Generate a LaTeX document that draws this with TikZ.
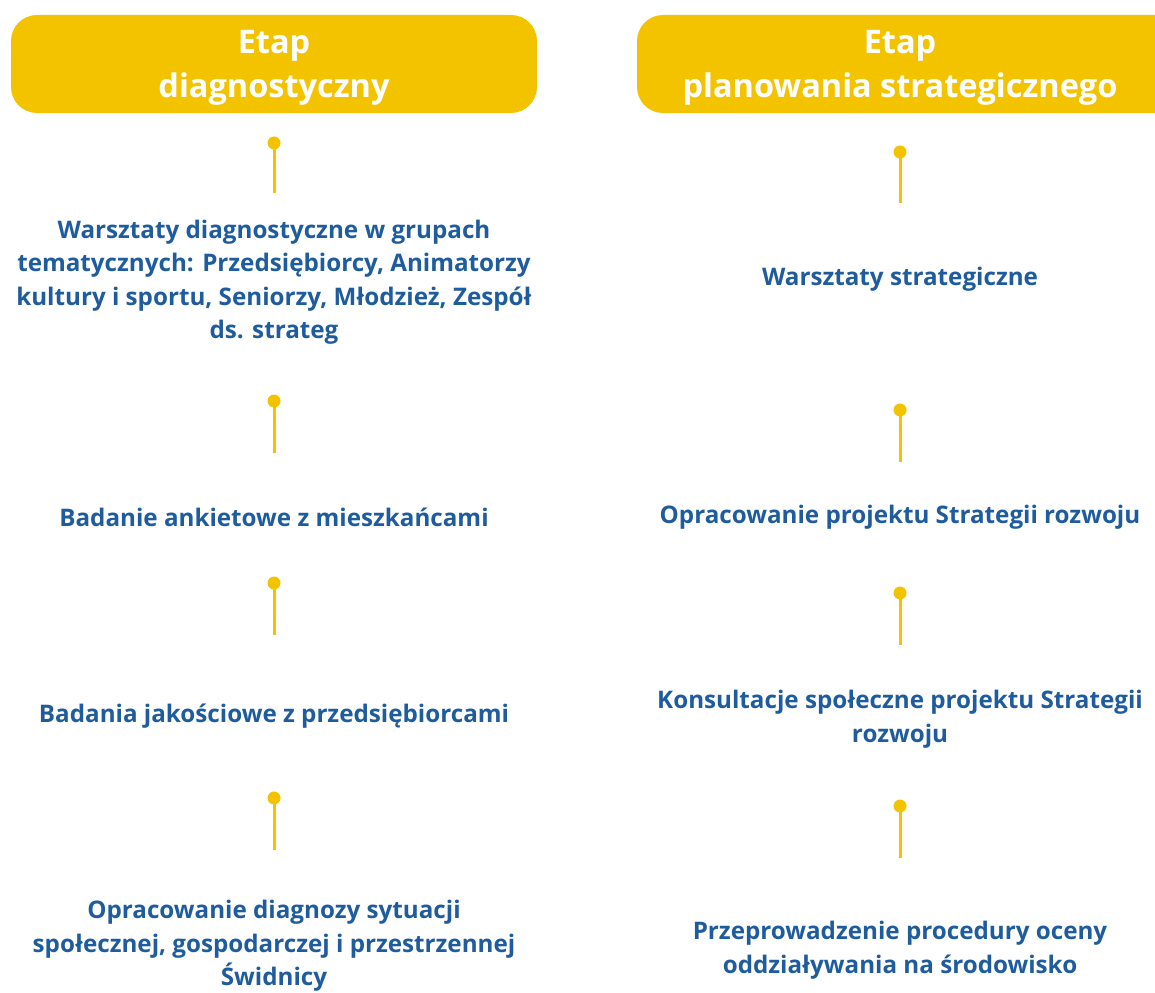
\documentclass[tikz,border=0pt]{standalone}
\usepackage{fontspec}
\setmainfont{Open Sans}
\definecolor{headyellow}{HTML}{F4C300}
\definecolor{btext}{HTML}{1E5C9E}
\begin{document}
\begin{tikzpicture}[x=1pt,y=1pt,
  header/.style={text=white, align=center,
    font=\fontsize{32.5}{44}\selectfont\bfseries, inner sep=0pt},
  headbox/.style={fill=headyellow, rounded corners=26pt},
  item/.style={text=btext, align=center, font=\fontsize{24.2}{33.5}\selectfont\bfseries, inner sep=0pt},
  stem/.style={draw=headyellow, line width=3pt},
  dot/.style={circle, fill=headyellow, minimum size=13pt, inner sep=0pt}]
\useasboundingbox (0,0) rectangle (1155,-992);
\clip (0,0) rectangle (1155,-992);
% headers
\path[headbox] (11,-15) rectangle (537,-113);
\path[headbox] (637,-15) rectangle (1185,-113);
\node[header] (h1) at (274,-68) {Etap\\diagnostyczny};
\node[header] (h2) at (900,-68) {Etap\\planowania strategicznego};
% left items
\node[item] (l1) at (274,-282) {Warsztaty diagnostyczne w grupach\\tematycznych: Przedsiębiorcy, Animatorzy\\kultury i sportu, Seniorzy, Młodzież, Zespół\\ds. strateg};
\node[item] (l2) at (274,-517) {Badanie ankietowe z mieszkańcami};
\node[item] (l3) at (274,-716) {Badania jakościowe z przedsiębiorcami};
\node[item] (l4) at (274,-946) {Opracowanie diagnozy sytuacji\\społecznej, gospodarczej i przestrzennej\\Świdnicy};
% right items
\node[item] (r1) at (900,-279) {Warsztaty strategiczne};
\node[item] (r2) at (900,-517) {Opracowanie projektu Strategii rozwoju};
\node[item] (r3) at (900,-719) {Konsultacje społeczne projektu Strategii\\rozwoju};
\node[item] (r4) at (900,-950) {Przeprowadzenie procedury oceny\\oddziaływania na środowisko};
% stems
\foreach \n/\x/\t/\b in {a/274/143/193, b/274/401/453, c/274/583/635, d/274/798/850,
                         e/900/152/203, f/900/410/462, g/900/593/645, h/900/806/858}{
  \coordinate (\n b) at (\x,-\b);
  \node[dot] (\n t) at (\x,-\t) {};
  \draw[stem] (\n t.center) -- (\n b);
}
\end{tikzpicture}
\end{document}
